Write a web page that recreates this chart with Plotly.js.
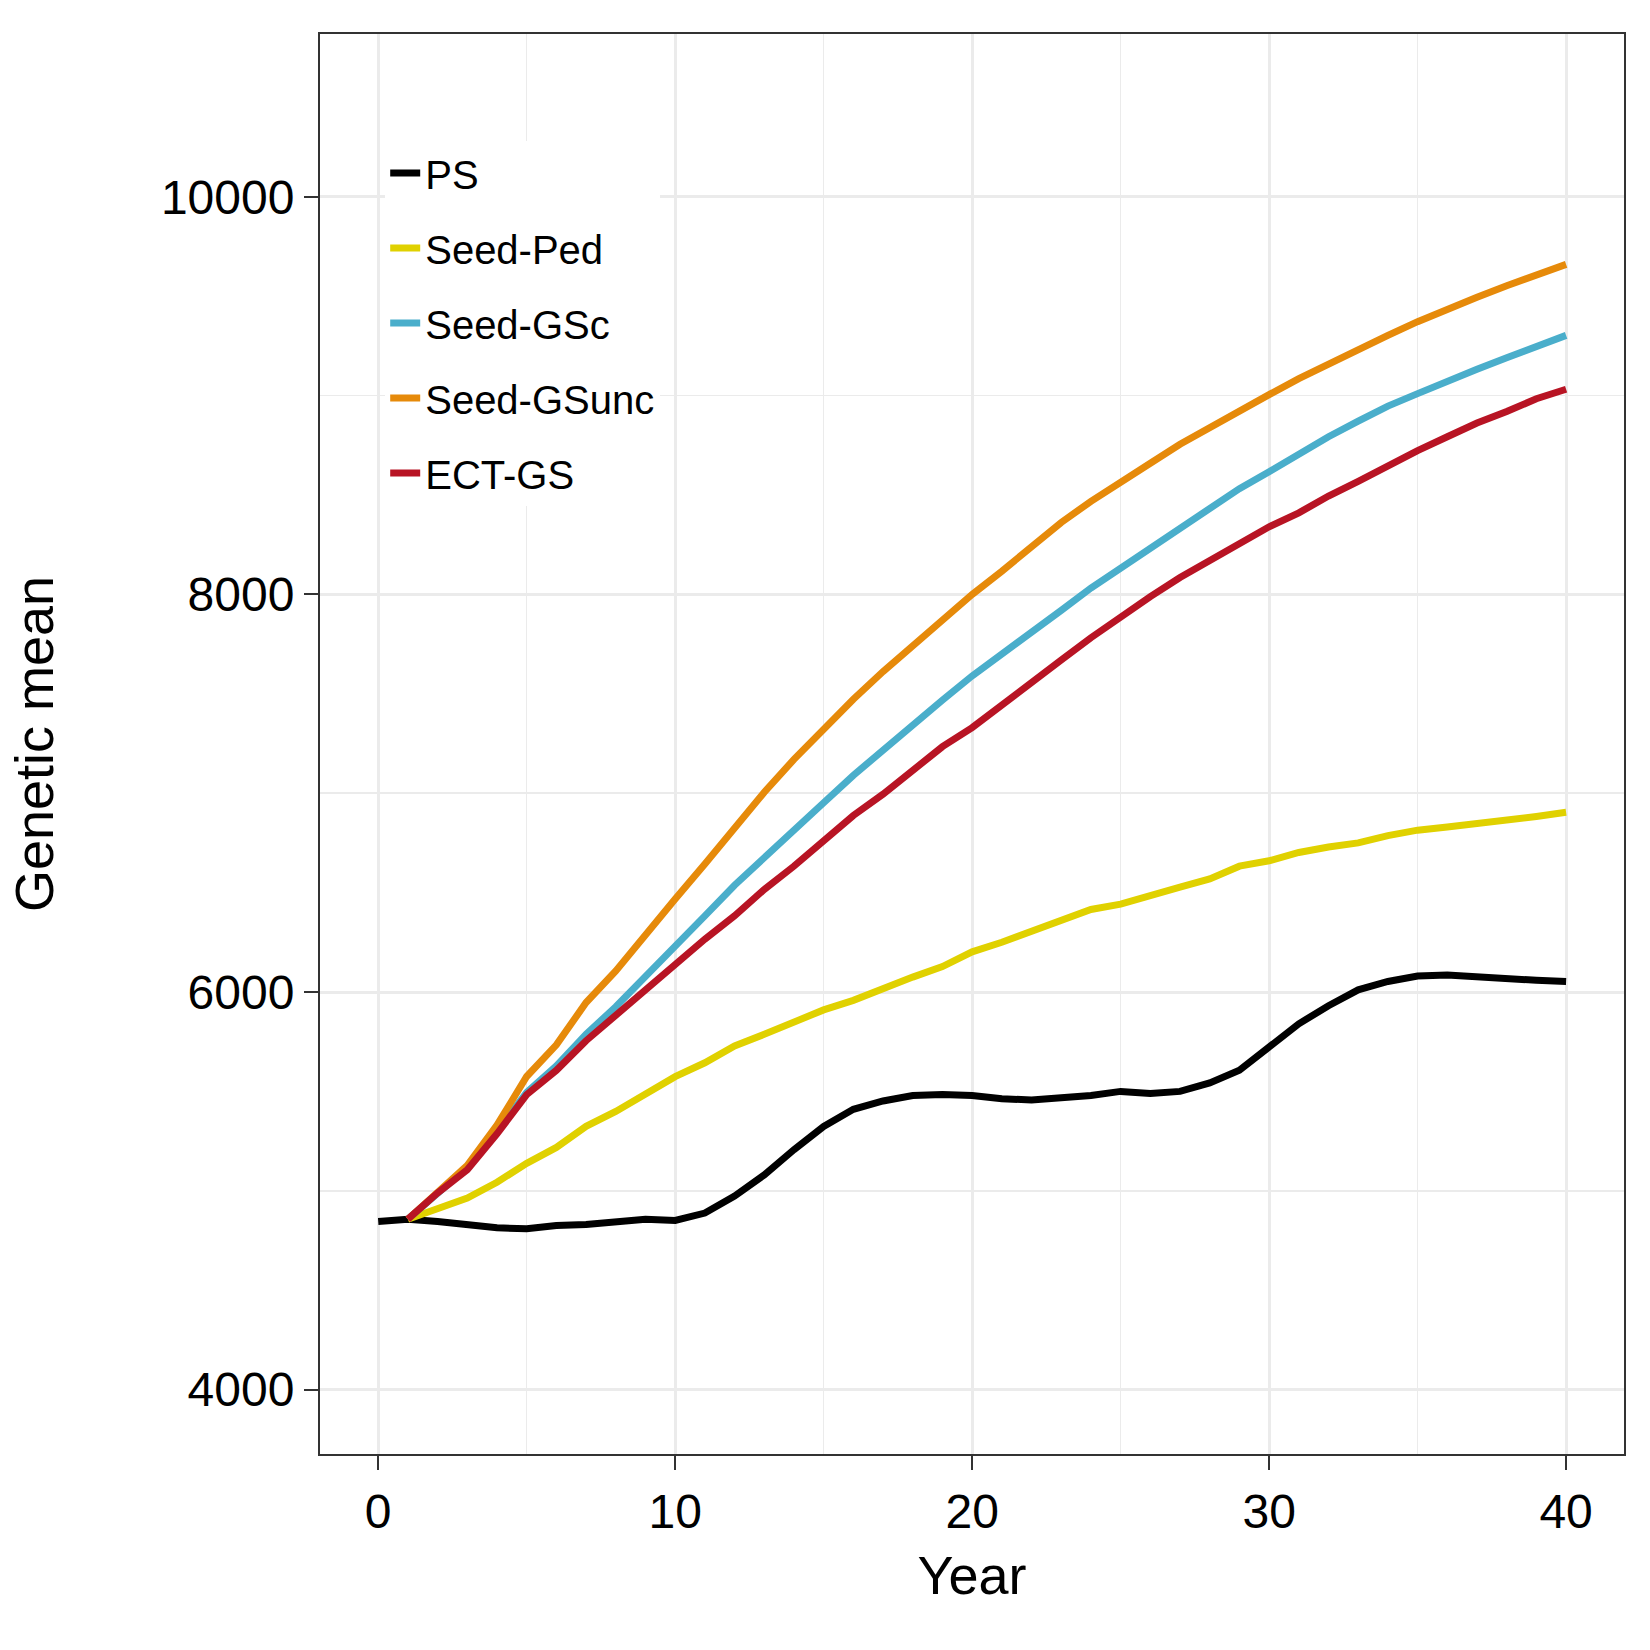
<!DOCTYPE html>
<html>
<head>
<meta charset="utf-8">
<script src="https://cdn.plot.ly/plotly-3.0.1.min.js"></script>
<style>body{margin:0;background:#fff}#chart{width:1650px;height:1650px}</style>
</head>
<body>
<div id="chart"></div>
<script>
// Genetic mean by year for each breeding strategy
const years = Array.from({length: 41}, (_, i) => i);
const yearsFrom1 = years.slice(1);

const ps = [4846, 4857, 4846, 4830, 4814, 4809, 4825, 4830, 4840, 4857, 4851, 4888, 4973, 5080, 5207,
  5324, 5410, 5452, 5479, 5484, 5479, 5463, 5457, 5468, 5479, 5500, 5489, 5500, 5543, 5606,
  5723, 5840, 5931, 6011, 6053, 6080, 6085, 6074, 6064, 6059, 6053];
const seedPed = [4857, 4910, 4963, 5043, 5138, 5218, 5324, 5399, 5489, 5574, 5644, 5729, 5787, 5851,
  5910, 5958, 6021, 6075, 6128, 6202, 6250, 6303, 6362, 6415, 6442, 6489, 6527, 6569, 6633,
  6660, 6702, 6729, 6750, 6787, 6814, 6830, 6846, 6867, 6883, 6904];
const seedGSc = [4857, 4989, 5117, 5298, 5495, 5628, 5787, 5926, 6075, 6229, 6383, 6537, 6676, 6825,
  6952, 7090, 7218, 7351, 7468, 7590, 7697, 7809, 7920, 8032, 8133, 8239, 8335, 8436, 8532,
  8617, 8707, 8793, 8872, 8947, 9010, 9075, 9133, 9191, 9250, 9303];
const seedGSunc = [4857, 4989, 5128, 5330, 5575, 5734, 5947, 6106, 6293, 6468, 6644, 6825, 7005, 7170,
  7325, 7473, 7612, 7745, 7872, 8000, 8117, 8245, 8362, 8468, 8569, 8660, 8755, 8840, 8926,
  9005, 9085, 9160, 9229, 9303, 9372, 9436, 9495, 9553, 9606, 9660];
const ectGS = [4857, 4989, 5106, 5287, 5484, 5606, 5755, 5883, 6011, 6149, 6266, 6383, 6516, 6633,
  6766, 6888, 6995, 7117, 7234, 7330, 7447, 7559, 7670, 7782, 7888, 7989, 8085, 8170, 8255,
  8340, 8410, 8495, 8569, 8649, 8723, 8793, 8862, 8920, 8984, 9032];

const yTicks = [4000, 6000, 8000, 10000];

const series = [
  { name: 'PS', x: years, y: ps, color: '#000000' },
  { name: 'Seed-Ped', x: yearsFrom1, y: seedPed, color: '#e0d100' },
  { name: 'Seed-GSc', x: yearsFrom1, y: seedGSc, color: '#4aaecb' },
  { name: 'Seed-GSunc', x: yearsFrom1, y: seedGSunc, color: '#e68a0a' },
  { name: 'ECT-GS', x: yearsFrom1, y: ectGS, color: '#b81424' }
];

const traces = series.map(s => ({
  x: s.x, y: s.y, name: s.name, legendgroup: s.name, mode: 'lines', type: 'scatter',
  line: { color: s.color, width: 7 }
}));

const axisBase = {
  showline: true, linecolor: '#333333', linewidth: 2, mirror: true,
  ticks: 'outside', ticklen: 14, tickwidth: 2, tickcolor: '#333333',
  gridcolor: '#ebebeb', gridwidth: 3, zeroline: false,
  tickfont: { size: 48, color: '#000' }
};

const layout = {
  width: 1650, height: 1650,
  margin: { l: 320, r: 26, t: 34, b: 196 },
  paper_bgcolor: '#fff', plot_bgcolor: '#fff',
  font: { family: 'Liberation Sans, Arial, sans-serif', color: '#000' },
  xaxis: Object.assign({}, axisBase, {
    range: [-1.96, 41.95], tickvals: [0, 10, 20, 30, 40],
    minor: { tickvals: [5, 15, 25, 35], showgrid: true, gridcolor: '#ebebeb', gridwidth: 1.5, ticks: '' },
    title: { text: 'Year', font: { size: 54 }, standoff: 20 }
  }),
  yaxis: Object.assign({}, axisBase, {
    range: [3676, 10819], tickvals: yTicks, ticktext: yTicks.map(String),
    minor: { tickvals: [5000, 7000, 9000], showgrid: true, gridcolor: '#ebebeb', gridwidth: 1.5, ticks: '' },
    title: { text: 'Genetic mean', font: { size: 54 }, standoff: 90 }
  }),
  showlegend: true,
  legend: {
    x: 0.05, y: 0.925, xanchor: 'left', yanchor: 'top',
    traceorder: 'grouped', tracegroupgap: 20,
    bgcolor: '#fff', borderwidth: 0,
    font: { size: 40, color: '#000' }
  }
};

Plotly.newPlot('chart', traces, layout, { displayModeBar: false, staticPlot: true });
</script>
</body>
</html>
